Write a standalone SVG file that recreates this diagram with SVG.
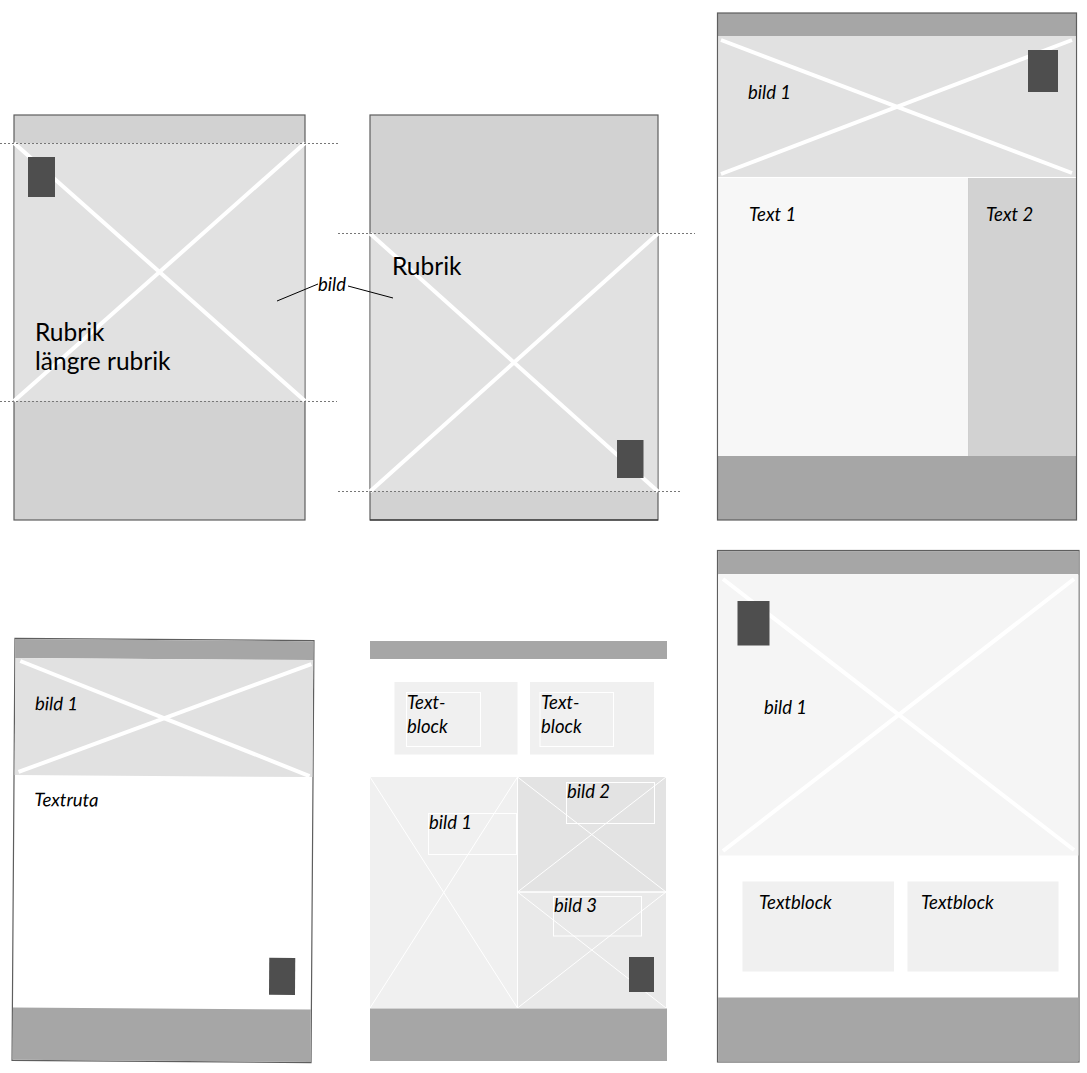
<svg xmlns="http://www.w3.org/2000/svg" width="1087" height="1073" viewBox="0 0 1087 1073">
<style>
.frame{stroke:#5e5e5e;stroke-width:1.2}
.bg{fill:#d2d2d2}
.img{fill:#e1e1e1}
.bar{fill:#a6a6a6}
.dark{fill:#4e4e4e}
.xw{stroke:#ffffff;stroke-width:4}
.xt{stroke:#ffffff;stroke-width:1}
.dash{stroke:#777777;stroke-width:1;stroke-dasharray:2 2;fill:none}
.tb{fill:#f0f0f0}
.lbl{font-family:Lato,"Liberation Sans",sans-serif;font-style:italic;font-size:18.5px;fill:#000}
.head{font-family:Lato,"Liberation Sans",sans-serif;font-size:24.5px;fill:#000}
.box{fill:none;stroke:#ffffff;stroke-width:1}
</style>
<rect width="1087" height="1073" fill="#ffffff"/>

<g id="panel1">
<rect class="bg frame" x="14" y="115" width="291" height="405"/>
<rect class="img" x="14.6" y="143" width="289.8" height="258"/>
<line class="xw" x1="14" y1="143" x2="305" y2="401"/>
<line class="xw" x1="305" y1="143" x2="14" y2="401"/>
<rect class="dark" x="28" y="157" width="27" height="40"/>
<text class="head" x="35" y="341">Rubrik</text>
<text class="head" x="35" y="370">längre rubrik</text>
</g>

<g id="panel2">
<rect class="bg frame" x="370" y="115" width="288" height="405"/>
<rect class="img" x="370.6" y="233.5" width="286.8" height="258"/>
<line class="xw" x1="370" y1="233.5" x2="658" y2="491.5"/>
<line class="xw" x1="658" y1="233.5" x2="370" y2="491.5"/>
<rect class="dark" x="617" y="440" width="26.5" height="38"/>
<line stroke="#222222" stroke-width="1.2" x1="370" y1="520" x2="658" y2="520"/>
<text class="head" x="392" y="275">Rubrik</text>
</g>

<g id="panel3">
<rect class="bar frame" x="717.5" y="13" width="359" height="507"/>
<rect class="img" x="718.1" y="36" width="357.8" height="140.5"/>
<rect fill="#ffffff" x="718.1" y="176.5" width="357.8" height="1.5"/>
<rect fill="#f7f7f7" x="718.1" y="178" width="250.4" height="278"/>
<rect class="bg" x="969" y="178" width="106.9" height="278"/>
<line class="xw" x1="721" y1="40" x2="1072" y2="173"/>
<line class="xw" x1="721" y1="174" x2="1072" y2="40"/>
<rect class="dark" x="1028" y="50" width="30" height="42"/>
<text class="lbl" x="748" y="99">bild 1</text>
<text class="lbl" x="749" y="221">Text 1</text>
<text class="lbl" x="986" y="221">Text 2</text>
</g>

<g id="panel4" transform="rotate(0.4 163 850.5)">
<rect fill="#ffffff" class="frame" x="13.5" y="639.5" width="299" height="422"/>
<rect class="bar" x="14.1" y="640.1" width="297.8" height="18.9"/>
<rect class="img" x="14.1" y="659" width="297.8" height="117"/>
<rect class="bar" x="14.1" y="1008.5" width="297.8" height="52.4"/>
<line class="xw" x1="19" y1="662" x2="309" y2="775"/>
<line class="xw" x1="18" y1="773" x2="310" y2="663"/>
<rect class="dark" x="270" y="957" width="26" height="37"/>
<text class="lbl" x="34" y="711">bild 1</text>
<text class="lbl" x="34" y="807">Textruta</text>
</g>

<g id="panel5">
<rect class="bar" x="370" y="641" width="297" height="18"/>
<rect class="tb" x="394.5" y="682" width="123" height="72.5"/>
<rect class="box" x="406.5" y="692.5" width="74" height="54"/>
<rect class="tb" x="530" y="682" width="124" height="72.5"/>
<rect class="box" x="540" y="692.5" width="73.5" height="54"/>
<text class="lbl" x="407" y="709">Text-</text>
<text class="lbl" x="407" y="733">block</text>
<text class="lbl" x="541" y="709">Text-</text>
<text class="lbl" x="541" y="733">block</text>
<rect fill="#f0f0f0" x="370" y="777" width="147.5" height="231"/>
<rect fill="#e3e3e3" x="517.5" y="777" width="148.5" height="114.5"/>
<rect fill="#e9e9e9" x="517.5" y="892.5" width="148.5" height="115.5"/>
<line class="xt" x1="517.5" y1="892" x2="666" y2="892"/>
<line class="xt" x1="517.5" y1="777" x2="517.5" y2="1008"/>
<line class="xt" x1="370" y1="777" x2="517.5" y2="1008"/>
<line class="xt" x1="517.5" y1="777" x2="370" y2="1008"/>
<line class="xt" x1="517.5" y1="777" x2="666" y2="892"/>
<line class="xt" x1="666" y1="777" x2="517.5" y2="892"/>
<line class="xt" x1="517.5" y1="892" x2="666" y2="1008"/>
<line class="xt" x1="666" y1="892" x2="517.5" y2="1008"/>
<rect class="box" x="428.5" y="813.5" width="88" height="41"/>
<rect class="box" x="566.5" y="782.5" width="88" height="41"/>
<rect class="box" x="553.5" y="896.5" width="88" height="39.5"/>
<text class="lbl" x="429" y="829">bild 1</text>
<text class="lbl" x="567" y="798">bild 2</text>
<text class="lbl" x="554" y="912">bild 3</text>
<rect class="dark" x="629" y="957" width="25" height="35"/>
<rect class="bar" x="370" y="1008.5" width="297" height="52.5"/>
</g>

<g id="panel6">
<rect fill="#ffffff" class="frame" x="717.5" y="550.5" width="361.5" height="511.5"/>
<rect class="bar" x="718.1" y="551.1" width="360.3" height="23"/>
<rect fill="#f5f5f5" x="718.1" y="574.5" width="360.3" height="281"/>
<line class="xw" x1="723" y1="579" x2="1074" y2="850"/>
<line class="xw" x1="723" y1="851" x2="1074" y2="579"/>
<rect class="dark" x="737.5" y="601" width="32" height="44.5"/>
<text class="lbl" x="764" y="714">bild 1</text>
<rect class="tb" x="742.5" y="881.5" width="151.5" height="90"/>
<rect class="tb" x="907.5" y="881.5" width="151" height="90"/>
<text class="lbl" x="759" y="909">Textblock</text>
<text class="lbl" x="921" y="909">Textblock</text>
<rect class="bar" x="718.1" y="997.5" width="360.3" height="63.9"/>
</g>

<g id="connectors">
<line class="dash" x1="0" y1="143.5" x2="338" y2="143.5"/>
<line class="dash" x1="0" y1="401.5" x2="337" y2="401.5"/>
<line class="dash" x1="338" y1="233.5" x2="695" y2="233.5"/>
<line class="dash" x1="338" y1="491.5" x2="682" y2="491.5"/>
<line stroke="#000" stroke-width="1" x1="277" y1="301" x2="318" y2="284"/>
<line stroke="#000" stroke-width="1" x1="348" y1="286" x2="393" y2="298"/>
<text class="lbl" x="318" y="291">bild</text>
</g>
</svg>
